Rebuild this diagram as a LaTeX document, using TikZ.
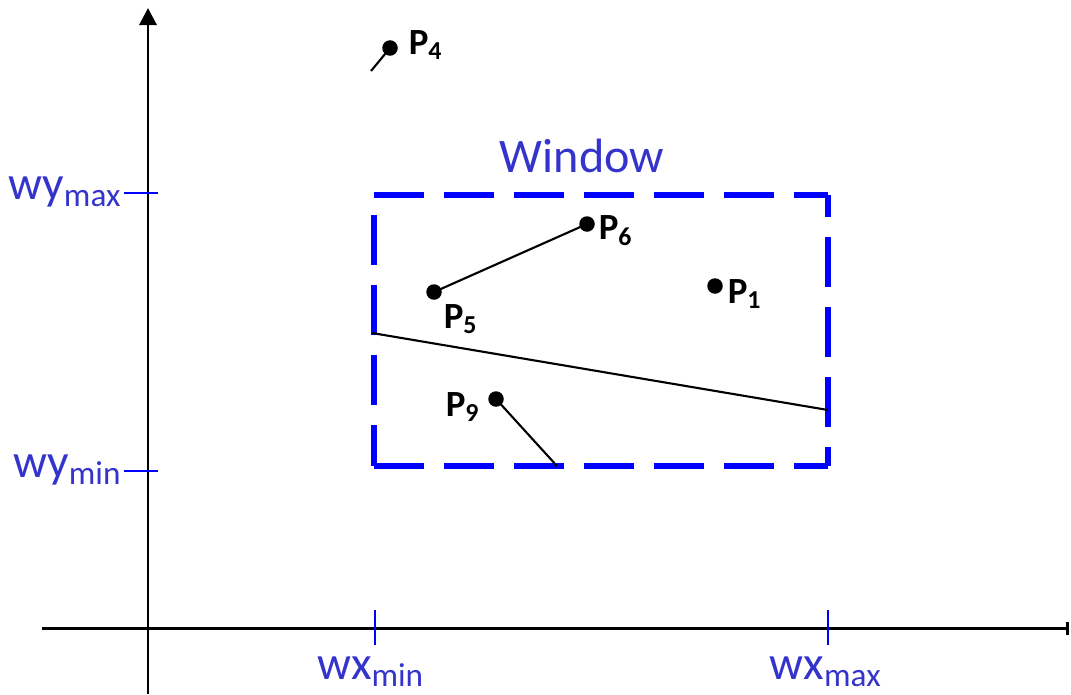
\documentclass[tikz,border=0pt]{standalone}
\usepackage{fontspec}
\setmainfont{Carlito}
\usetikzlibrary{arrows.meta}
\definecolor{winBlue}{HTML}{0000FF}
\definecolor{labelBlue}{HTML}{3434CC}

\begin{document}
\begin{tikzpicture}[x=0.01cm, y=-0.01cm,
    axis/.style={line width=0.85pt, black},
    tickmark/.style={line width=0.45pt, winBlue},
    window/.style={line width=1.7pt, winBlue, dash pattern=on 0.5cm off 0.2cm},
    seg/.style={line width=0.6pt, black},
    dot/.style={circle, fill=black, inner sep=0pt, minimum size=0.155cm},
    plabel/.style={inner sep=0pt, font=\bfseries\fontsize{10.5}{12}\selectfont},
    wlabel/.style={inner sep=0pt, text=labelBlue, font=\fontsize{13.5}{16}\selectfont},
  ]
    \path[use as bounding box] (0,0) rectangle (1071,694);

    % ─── Axes ───
    \coordinate (ybot) at (148,694);
    \coordinate (ytop) at (148,8);
    \coordinate (xleft) at (42,628);
    \coordinate (xright) at (1069,628);
    \draw[axis, -{Triangle[length=0.17cm, width=0.17cm]}] (ybot) -- (ytop);
    \draw[axis, -{Bar[width=0.13cm]}] (xleft) -- (xright);

    % Ticks and limits
    \foreach \y/\n in {193/max, 471/min}{
      \draw[tickmark] (124,\y) -- (158,\y);
      \node[wlabel, anchor=base east] (wy\n) at (123,\y+6) {wy\textsubscript{\n}};
    }
    \foreach \x/\n/\dx in {375/min/-4, 828/max/-2}{
      \draw[tickmark] (\x,610) -- (\x,645);
      \node[wlabel, anchor=base] (wx\n) at (\x+\dx,679) {wx\textsubscript{\n}};
    }

    % ─── Window ───
    \coordinate (wul) at (374,195);
    \coordinate (wur) at (828,195);
    \coordinate (wll) at (374,466);
    \coordinate (wlr) at (828,466);
    \draw[window] (wul) -- (wur);
    \draw[window, dash phase=0.28cm] (wur) -- (wlr);
    \draw[window] (wll) -- (wlr);
    \draw[window, dash phase=0.5cm] (wul) -- (wll);
    \node[wlabel, font=\fontsize{13.7}{16}\selectfont] (title) at (582,156) {Window};

    % ─── Points ───
    \node[dot] (p1) at (715,286) {};
    \node[dot] (p4) at (390,48) {};
    \node[dot] (p5) at (434,292) {};
    \node[dot] (p6) at (587,224) {};
    \node[dot] (p9) at (496,399) {};
    \node[plabel] (lp1) at (745,294) {P\textsubscript{1}};
    \node[plabel] (lp4) at (426,45) {P\textsubscript{4}};
    \node[plabel] (lp5) at (461,319) {P\textsubscript{5}};
    \node[plabel] (lp6) at (616,231) {P\textsubscript{6}};
    \node[plabel] (lp9) at (463,407) {P\textsubscript{9}};

    % Segments
    \coordinate (c4) at (371,71);
    \coordinate (cl) at (372,333);
    \coordinate (cr) at (828,410);
    \coordinate (c9) at (557,466);
    \draw[seg] (c4) -- (p4.center);
    \draw[seg] (p5.center) -- (p6.center);
    \draw[seg] (cl) -- (cr);
    \draw[seg] (p9.center) -- (c9);
\end{tikzpicture}
\end{document}
